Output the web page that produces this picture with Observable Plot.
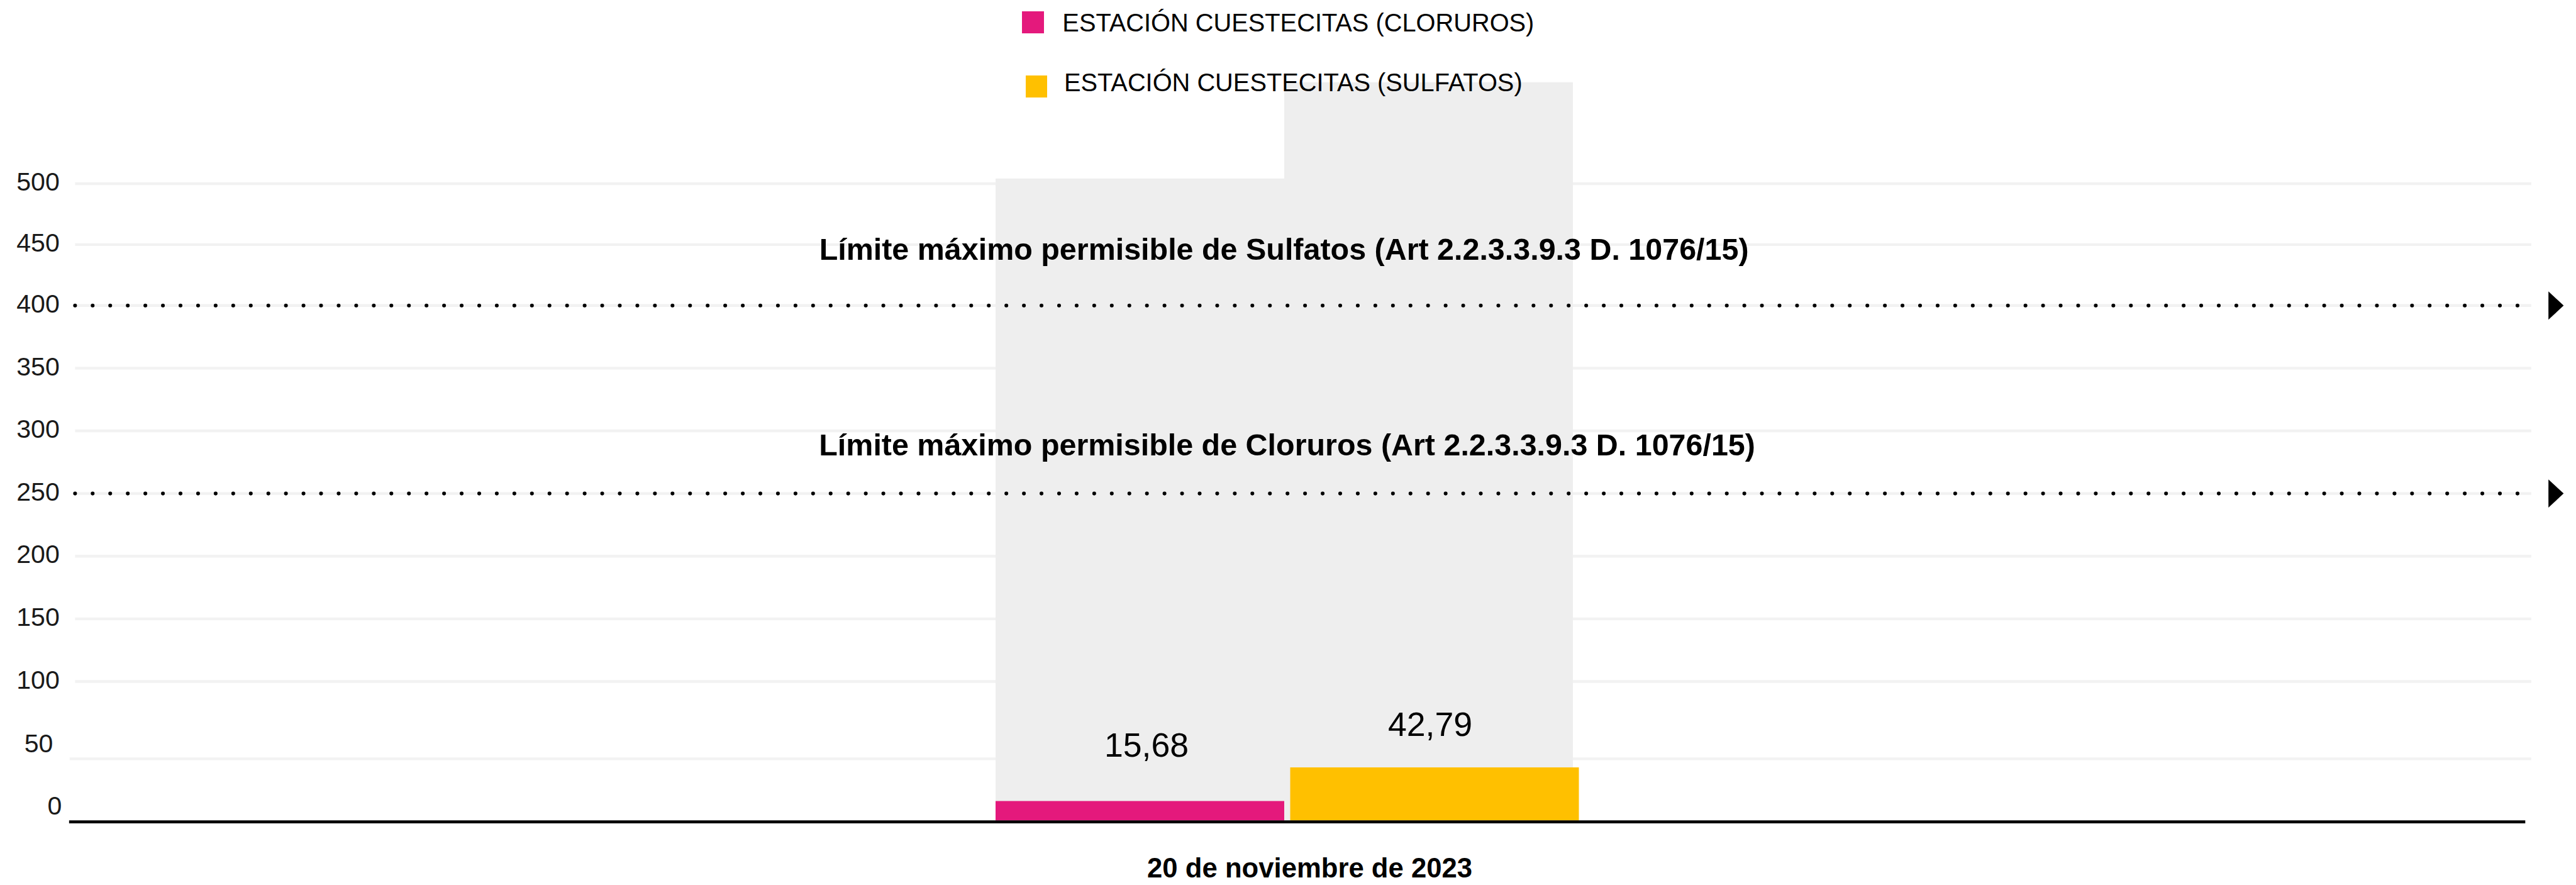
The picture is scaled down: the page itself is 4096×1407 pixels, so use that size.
<!DOCTYPE html>
<html>
<head>
<meta charset="utf-8">
<script src="https://cdn.jsdelivr.net/npm/d3@7"></script>
<script src="https://cdn.jsdelivr.net/npm/@observablehq/plot@0.6"></script>
<style>
  html, body { margin: 0; padding: 0; background: #fff; }
  #wrap { position: relative; width: 4096px; height: 1407px; overflow: hidden;
          font-family: "Liberation Sans", Arial, sans-serif; }
  #wrap svg { position: absolute; left: 0; top: 0; }
  .sw { position: absolute; }
  .lt { position: absolute; white-space: nowrap; color: #000; }
</style>
</head>
<body>
<div id="wrap"></div>
<script>
// ---------------- data ----------------
const series = ["ESTACIÓN CUESTECITAS (CLORUROS)", "ESTACIÓN CUESTECITAS (SULFATOS)"];
const values = [15.68, 42.79];
const backgroundValues = [504, 583];
const seriesColors = ["#E4197C", "#FFC000"];
const dateLabel = "20 de noviembre de 2023";
const limitValues = [400, 250];
const limitLabels = [
  "Límite máximo permisible de Sulfatos (Art 2.2.3.3.9.3 D. 1076/15)",
  "Límite máximo permisible de Cloruros (Art 2.2.3.3.9.3 D. 1076/15)"
];
const yTicks = [0, 50, 100, 150, 200, 250, 300, 350, 400, 450, 500];

// ---------------- layout (scaled 0.865) ----------------
const S = 0.865;
const W = 4096, H = 1407;
const marginLeft = 138 * S, marginRight = W - 4653 * S;
const y0 = 1508 * S;
const fmt = v => v.toFixed(2).replace(".", ",");
const font = "Liberation Sans, Arial, sans-serif";

const arrowHead = {
  draw(ctx) {
    const w = 28 * S, h = 52 * S;
    ctx.moveTo(-w / 2, -h / 2);
    ctx.lineTo(w / 2, 0);
    ctx.lineTo(-w / 2, h / 2);
    ctx.closePath();
  }
};

const idx = series.map((d, i) => i);

const chart = Plot.plot({
  width: W,
  height: H,
  marginLeft,
  marginRight,
  marginTop: 0,
  marginBottom: H - y0,
  style: { fontFamily: font, background: "transparent", overflow: "visible" },
  x: { type: "band", domain: series, range: [1830 * S, 2892 * S], padding: 0, axis: null },
  y: { type: "linear", domain: [0, 50, 100, 400, 500], range: [y0, 1394 * S, 1252 * S, 561 * S, 337 * S], axis: null },
  marks: [
    // gridlines
    Plot.ruleY(yTicks.filter(t => t >= 100), { y: d => d, stroke: "#f2f2f2", strokeWidth: 5 * S }),
    Plot.ruleY(yTicks.filter(t => t === 50), { y: d => d, stroke: "#f2f2f2", strokeWidth: 5 * S, insetLeft: -10 * S }),
    // background bars
    Plot.barY(idx, { x: i => series[i], y: i => backgroundValues[i], fill: "#eeeeee" }),
    // value bars
    Plot.barY(idx.filter(i => i === 0), { x: i => series[i], y: i => values[i], fill: seriesColors[0] }),
    Plot.barY(idx.filter(i => i === 1), { x: i => series[i], y: i => values[i], fill: seriesColors[1], dx: 11 * S }),
    // baseline
    Plot.ruleY([0], { stroke: "#000", strokeWidth: 5.3 * S, dy: 2 * S, insetLeft: -11 * S, insetRight: 11 * S }),
    // limit dotted lines
    Plot.ruleY(limitValues, { y: d => d, stroke: "#000", strokeWidth: 7 * S, strokeLinecap: "round",
      strokeDasharray: `0 ${32.3 * S}` }),
    Plot.dot(limitValues, { y: d => d, frameAnchor: "right", dx: 45 * S, symbol: arrowHead, fill: "#000", stroke: "none", r: 10 }),
    // limit labels
    Plot.text(limitValues.filter((d, i) => i === 0), { y: d => d, text: () => limitLabels[0], frameAnchor: "middle",
      lineAnchor: "bottom", dy: -72.7, dx: -31, fontSize: 56 * S, fontWeight: "bold", fill: "#000" }),
    Plot.text(limitValues.filter((d, i) => i === 1), { y: d => d, text: () => limitLabels[1], frameAnchor: "middle",
      lineAnchor: "bottom", dy: -61, dx: -26, fontSize: 56 * S, fontWeight: "bold", fill: "#000" }),
    // value labels
    Plot.text(idx.filter(i => i === 0), { x: i => series[i], y: i => values[i], text: i => fmt(values[i]),
      lineAnchor: "bottom", dy: -71.1, dx: 10, fontSize: 62 * S, fill: "#000" }),
    Plot.text(idx.filter(i => i === 1), { x: i => series[i], y: i => values[i], text: i => fmt(values[i]),
      lineAnchor: "bottom", dy: -50.5, dx: 2, fontSize: 62 * S, fill: "#000" }),
    // y tick labels
    Plot.text(yTicks.filter(t => t >= 100), { y: d => d, text: d => String(d), frameAnchor: "left",
      textAnchor: "end", dx: -29 * S, dy: -2, fontSize: 47.5 * S, fill: "#1a1a1a" }),
    Plot.text(yTicks.filter(t => t === 50), { y: d => d, text: d => String(d), frameAnchor: "left",
      textAnchor: "end", dx: -41 * S, dy: -23.5, fontSize: 47.5 * S, fill: "#1a1a1a" }),
    Plot.text(yTicks.filter(t => t === 0), { y: d => d, text: d => String(d), frameAnchor: "left",
      textAnchor: "end", dx: -25 * S, dy: -22.6, fontSize: 47.5 * S, fill: "#1a1a1a" }),
    // x category label
    Plot.text([dateLabel], { text: d => d, frameAnchor: "bottom", lineAnchor: "bottom", dy: 90.5, dx: 10,
      fontSize: 50.5 * S, fontWeight: "bold", fill: "#000" })
  ]
});

const wrap = document.getElementById("wrap");
wrap.appendChild(chart);

// ---------------- legend (overlay, HTML) ----------------
const legendPos = [
  { sx: 1879, sy: 21, tx: 1953, ty: 59 },
  { sx: 1885, sy: 139, tx: 1956, ty: 168 }
];
const fs = 46 * S;
series.forEach((name, i) => {
  const p = legendPos[i];
  const sw = document.createElement("div");
  sw.className = "sw";
  sw.style.left = (p.sx * S) + "px";
  sw.style.top = (p.sy * S) + "px";
  sw.style.width = (40 * S) + "px";
  sw.style.height = (40 * S) + "px";
  sw.style.background = seriesColors[i];
  wrap.appendChild(sw);
  const t = document.createElement("div");
  t.className = "lt";
  t.textContent = name;
  t.style.fontSize = fs + "px";
  t.style.lineHeight = fs + "px";
  t.style.left = (p.tx * S) + "px";
  t.style.top = (p.ty * S - 0.8465 * fs) + "px";
  wrap.appendChild(t);
});
</script>
</body>
</html>
